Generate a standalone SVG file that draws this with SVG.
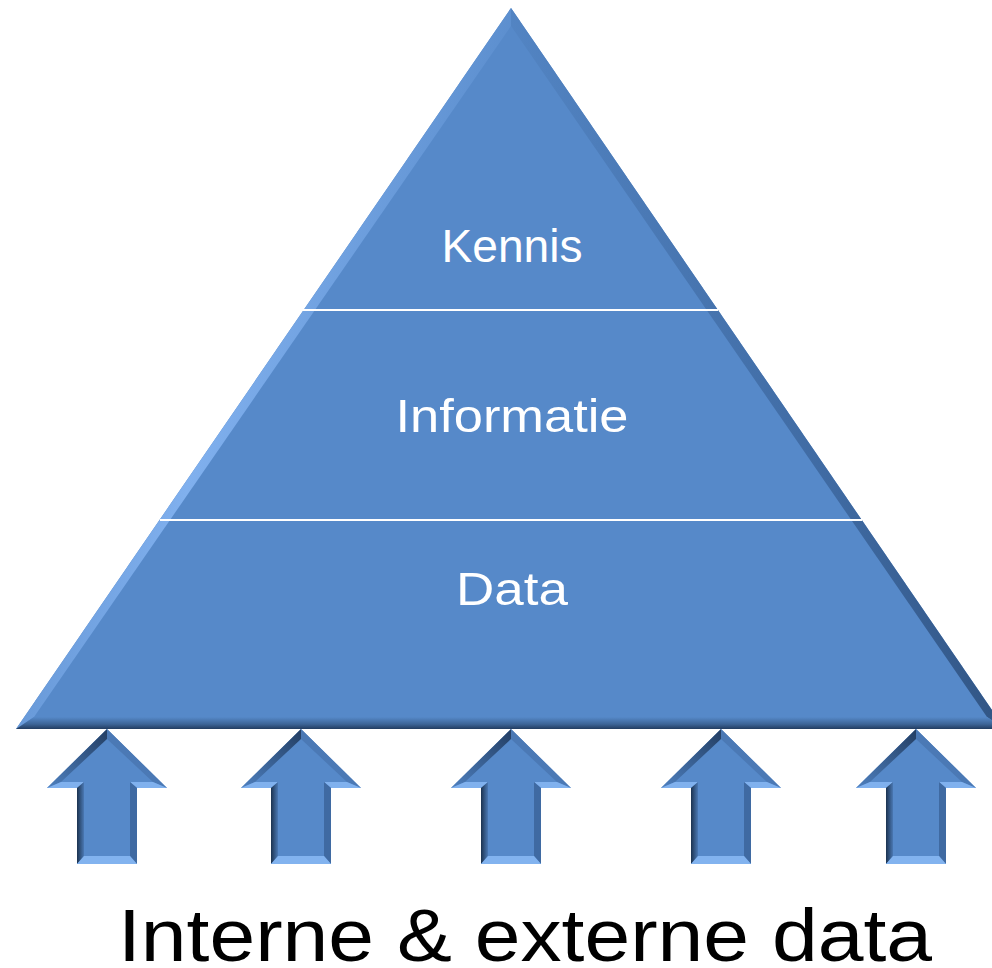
<svg xmlns="http://www.w3.org/2000/svg" width="992" height="968" viewBox="0 0 992 968">
<style>
.lbl{font-family:"Liberation Sans","DejaVu Sans",sans-serif;fill:#ffffff;font-size:47px;text-anchor:middle}
.cap{font-family:"Liberation Sans","DejaVu Sans",sans-serif;fill:#000000;font-size:75px}
.sep{stroke:#ffffff;stroke-width:2}
</style>
<defs>
<linearGradient id="gL" x1="0" y1="0" x2="1" y2="0.3">
<stop offset="0" stop-color="#4a7dbd"/><stop offset="0.5" stop-color="#80b0ee"/><stop offset="1" stop-color="#5689c9"/>
</linearGradient>
<linearGradient id="gR" x1="1" y1="0" x2="0" y2="0.3">
<stop offset="0" stop-color="#1f3a5e"/><stop offset="0.5" stop-color="#3f6aa2"/><stop offset="1" stop-color="#5689c9"/>
</linearGradient>
<linearGradient id="gB" x1="0" y1="0" x2="0" y2="1">
<stop offset="0" stop-color="#5689c9"/><stop offset="0.6" stop-color="#3c6496"/><stop offset="1" stop-color="#223c60"/>
</linearGradient>
<linearGradient id="aL" x1="0" y1="0" x2="1" y2="0">
<stop offset="0" stop-color="#1c3350"/><stop offset="1" stop-color="#4a78b3"/>
</linearGradient>
<linearGradient id="aHL" x1="1" y1="0" x2="0" y2="1">
<stop offset="0" stop-color="#233e63"/><stop offset="1" stop-color="#4e80bf"/>
</linearGradient>
<g id="arrow">
<polygon points="0,0 60,59 30,59 30,135 -30,135 -30,59 -60,59" fill="#5689c9"/>
<polygon points="0,0 -60,59 -46,53 0,10" fill="url(#aHL)"/>
<polygon points="0,0 0,10 46,53 60,59" fill="#4b79b5"/>
<polygon points="-60,59 -30,59 -23,53 -46,53" fill="#80b1ee"/>
<polygon points="60,59 30,59 23,53 46,53" fill="#80b1ee"/>
<polygon points="-30,59 -23,53 -23,127 -30,135" fill="url(#aL)"/>
<polygon points="30,59 23,53 23,127 30,135" fill="#3f6aa2"/>
<polygon points="-30,135 30,135 23,127 -23,127" fill="#82b3ef"/>
</g>
</defs>
<g id="pyramid">
<polygon points="511,8 16,729 1005,729" fill="#5689c9"/>
<polygon points="511,8 16,729 34,717 511,26" fill="url(#gL)"/>
<polygon points="511,8 511,26 987,717 1005,729" fill="url(#gR)"/>
<polygon points="16,729 1005,729 987,717 34,717" fill="url(#gB)"/>
</g>
<g id="connectors">
<line class="sep" x1="303" y1="310" x2="718" y2="310"/>
<line class="sep" x1="160" y1="520" x2="862" y2="520"/>
</g>
<g id="kennis"><text class="lbl" x="512" y="262" textLength="141" lengthAdjust="spacingAndGlyphs">Kennis</text></g>
<g id="informatie"><text class="lbl" x="512" y="432" textLength="233" lengthAdjust="spacingAndGlyphs">Informatie</text></g>
<g id="data"><text class="lbl" x="512" y="605" textLength="112" lengthAdjust="spacingAndGlyphs">Data</text></g>
<g id="arrows">
<use href="#arrow" transform="translate(107,729)"/>
<use href="#arrow" transform="translate(301,729)"/>
<use href="#arrow" transform="translate(511,729)"/>
<use href="#arrow" transform="translate(721,729)"/>
<use href="#arrow" transform="translate(916,729)"/>
</g>
<g id="caption"><text class="cap" x="118" y="961" textLength="814" lengthAdjust="spacingAndGlyphs">Interne &amp; externe data</text></g>
</svg>
